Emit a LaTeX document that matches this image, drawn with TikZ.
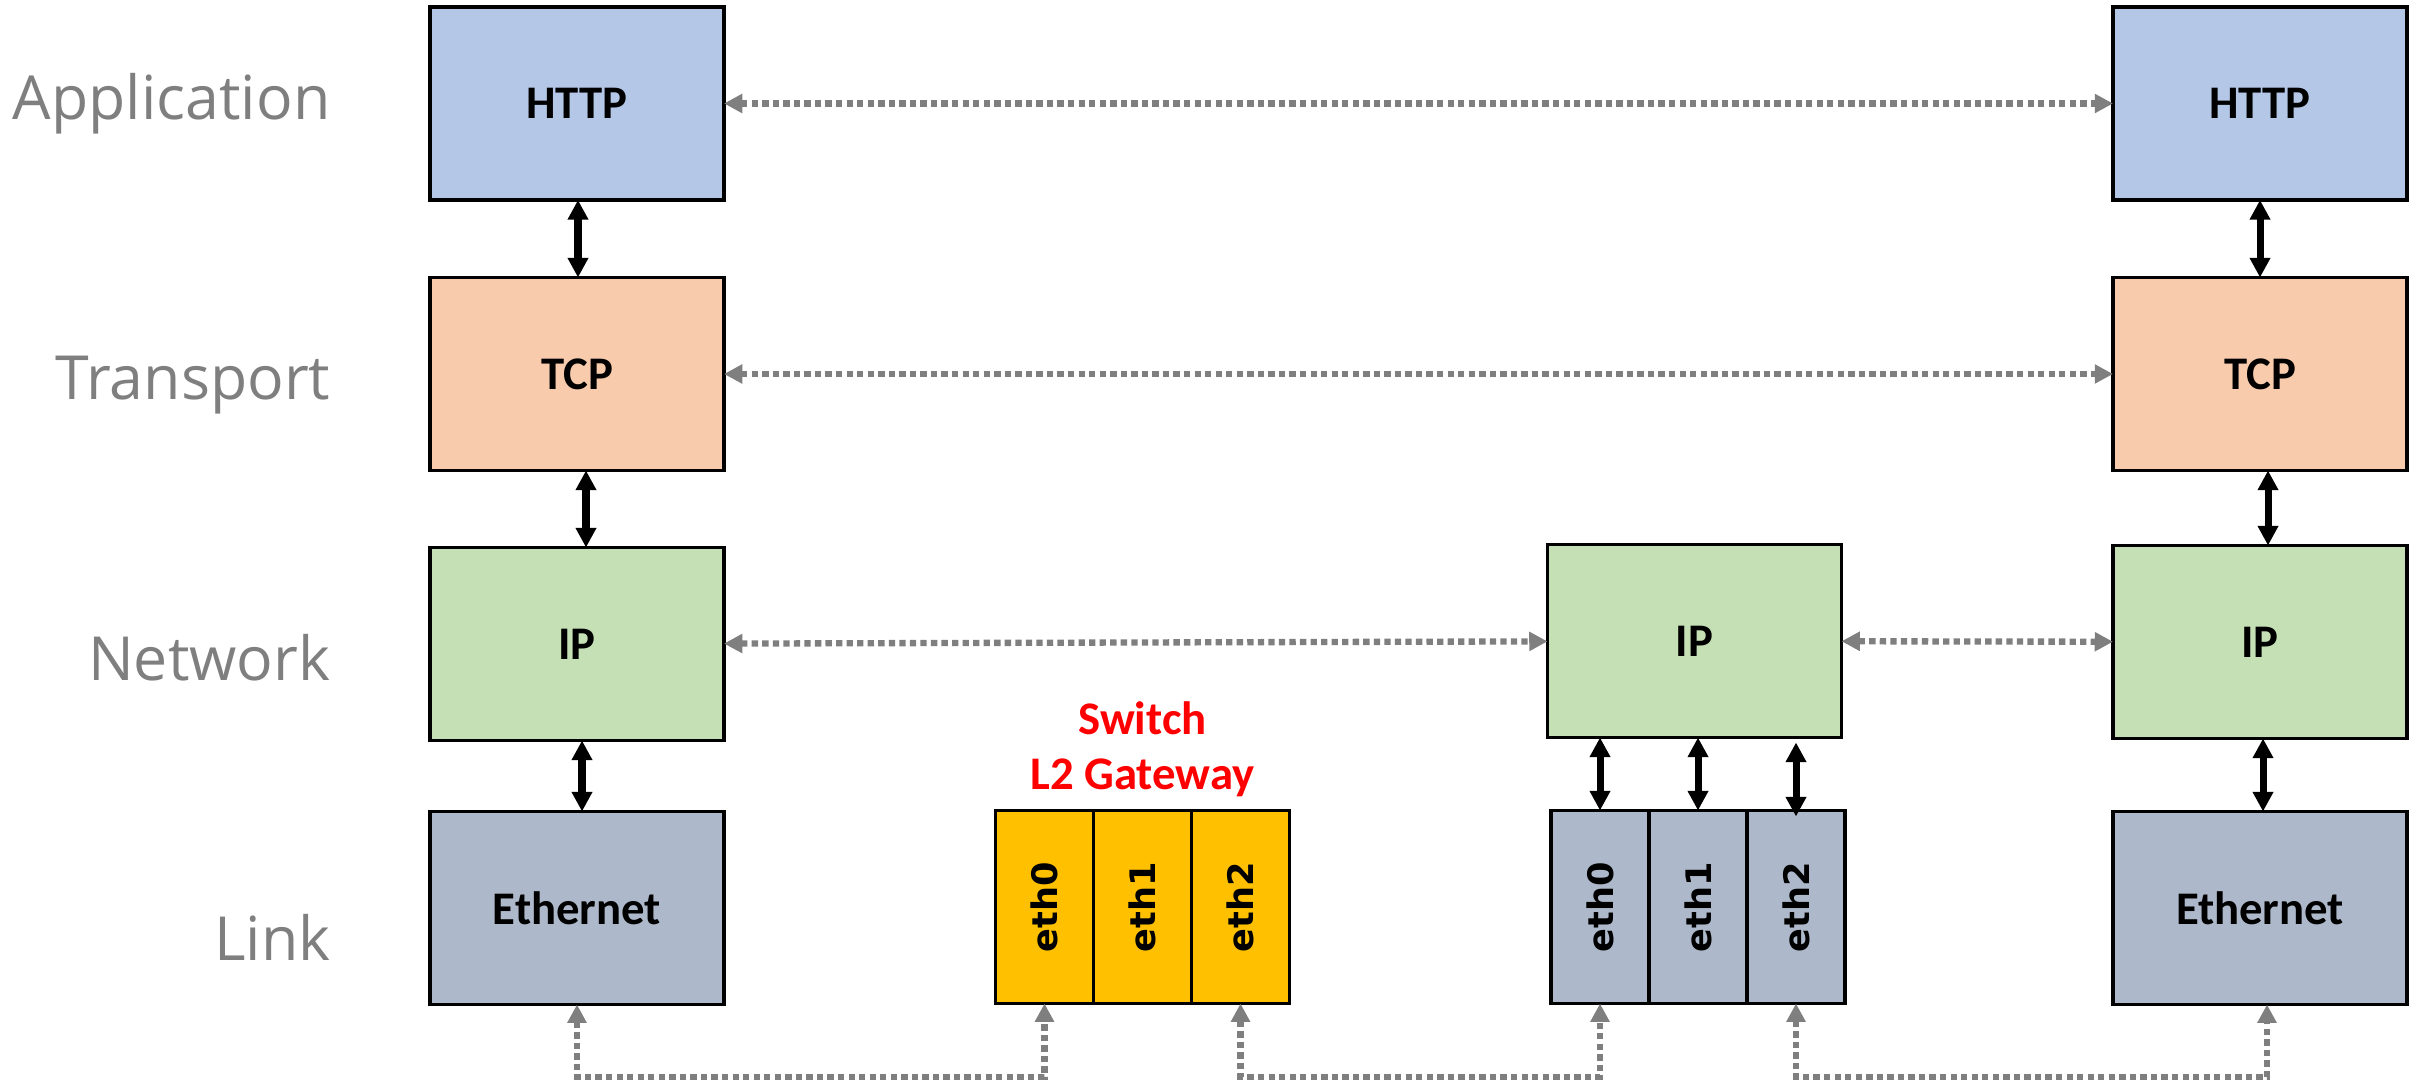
\documentclass[tikz,border=0pt]{standalone}
\usepackage{fontspec}
\setmainfont{Carlito}
\newfontfamily\layerfont{Open Sans}
\newfontfamily\ethfont{DejaVu Sans}[BoldFont={DejaVu Sans Bold}]
\usetikzlibrary{
  arrows.meta,
  positioning
}

\definecolor{httpblue}{HTML}{B4C7E7}
\definecolor{tcporange}{HTML}{F8CBAD}
\definecolor{ipgreen}{HTML}{C5E0B4}
\definecolor{linkgray}{HTML}{ADB9CA}
\definecolor{switchgold}{HTML}{FFC000}
\definecolor{peergray}{HTML}{7F7F7F}

\tikzset{
  box/.style={draw, line width=1pt, minimum width=2.94cm, minimum height=1.93cm,
    inner sep=0pt, outer sep=0pt, font=\fontsize{13.3}{16}\selectfont\bfseries},
  httpbox/.style={box, fill=httpblue},
  tcpbox/.style={box, fill=tcporange},
  ipbox/.style={box, fill=ipgreen},
  linkbox/.style={box, fill=linkgray},
  port/.style={draw, line width=1pt, minimum width=0.98cm, minimum height=1.93cm,
    inner sep=0pt, outer sep=0pt},
  portlabel/.style={rotate=90, inner sep=0pt,
    font=\ethfont\bfseries\fontsize{10}{12}\selectfont},
  layername/.style={anchor=base east, inner sep=0pt, text=peergray,
    font=\layerfont\fontsize{17.3}{20}\selectfont},
  stack/.style={{Triangle[length=5.6pt,width=5.6pt]}-{Triangle[length=5.6pt,width=5.6pt]},
    line width=2pt},
  peer/.style={{Triangle[length=5.2pt,width=5.2pt]}-{Triangle[length=5.2pt,width=5.2pt]},
    peergray, line width=1.8pt, dash pattern=on 1.8pt off 1.2pt},
}

\begin{document}
\begin{tikzpicture}

\useasboundingbox (0,0) rectangle (24.22,10.82);

% layer names
\node[layername] (nApp) at (3.31,9.62) {Application};
\node[layername] (nTrans) at (3.31,6.82) {Transport};
\node[layername] (nNet) at (3.31,4.02) {Network};
\node[layername] (nLink) at (3.31,1.22) {Link};

% left host
\node[httpbox] (httpL) at (5.77,9.785) {HTTP};
\node[tcpbox] (tcpL) at (5.77,7.08) {TCP};
\node[ipbox] (ipL) at (5.77,4.38) {IP};
\node[linkbox] (ethL) at (5.77,1.74) {Ethernet};

% right host
\node[httpbox] (httpR) at (22.60,9.785) {HTTP};
\node[tcpbox] (tcpR) at (22.60,7.08) {TCP};
\node[ipbox] (ipR) at (22.60,4.40) {IP};
\node[linkbox] (ethR) at (22.60,1.74) {Ethernet};

% switch
\node[port, fill=switchgold] (sp1) at (11.425,1.75) {};
\node[port, fill=switchgold, left=0pt of sp1] (sp0) {};
\node[port, fill=switchgold, right=0pt of sp1] (sp2) {};
\foreach \p/\t in {sp0/eth0,sp1/eth1,sp2/eth2}
  \node[portlabel] (\p txt) at (\p) {\t};
\node[above=0.13cm of sp1, text=red, align=center, inner sep=0pt,
  font=\fontsize{13.3}{15.6}\selectfont\bfseries] (swname) {Switch\\L2 Gateway};

% router
\node[ipbox] (ipM) at (16.945,4.41) {IP};
\node[port, fill=linkgray] (rp1) at (16.98,1.75) {};
\node[port, fill=linkgray, left=0pt of rp1] (rp0) {};
\node[port, fill=linkgray, right=0pt of rp1] (rp2) {};
\foreach \p/\t in {rp0/eth0,rp1/eth1,rp2/eth2}
  \node[portlabel] (\p txt) at (\p) {\t};

% stack arrows
\draw[stack] ([xshift=0.01cm]httpL.south) -- ([xshift=0.01cm]tcpL.north);
\draw[stack] ([xshift=0.09cm]tcpL.south) -- ([xshift=0.09cm]ipL.north);
\draw[stack] ([xshift=0.05cm]ipL.south) -- ([xshift=0.05cm]ethL.north);
\draw[stack] (httpR.south) -- (tcpR.north);
\draw[stack] ([xshift=0.08cm]tcpR.south) -- ([xshift=0.08cm]ipR.north);
\draw[stack] ([xshift=0.03cm]ipR.south) -- ([xshift=0.03cm]ethR.north);
\draw[stack] (rp0.north |- ipM.south) -- (rp0.north);
\draw[stack] (rp1.north |- ipM.south) -- (rp1.north);
\draw[stack] ([yshift=-0.05cm]rp2.north |- ipM.south) -- ([yshift=-0.06cm]rp2.north);

% peer arrows
\draw[peer] (httpL) -- (httpR);
\draw[peer] (tcpL) -- (tcpR);
\draw[peer] (ipL) -- (ipM);
\draw[peer] (ipM) -- (ipR);

% wires
\coordinate (bus) at (0,0.05);
\draw[peer] (ethL.south) -- (ethL.south |- bus) -| (sp0.south);
\draw[peer] (sp2.south) -- (sp2.south |- bus) -| (rp0.south);
\draw[peer] (rp2.south) -- (rp2.south |- bus) -| ([xshift=0.07cm]ethR.south);

\end{tikzpicture}
\end{document}
